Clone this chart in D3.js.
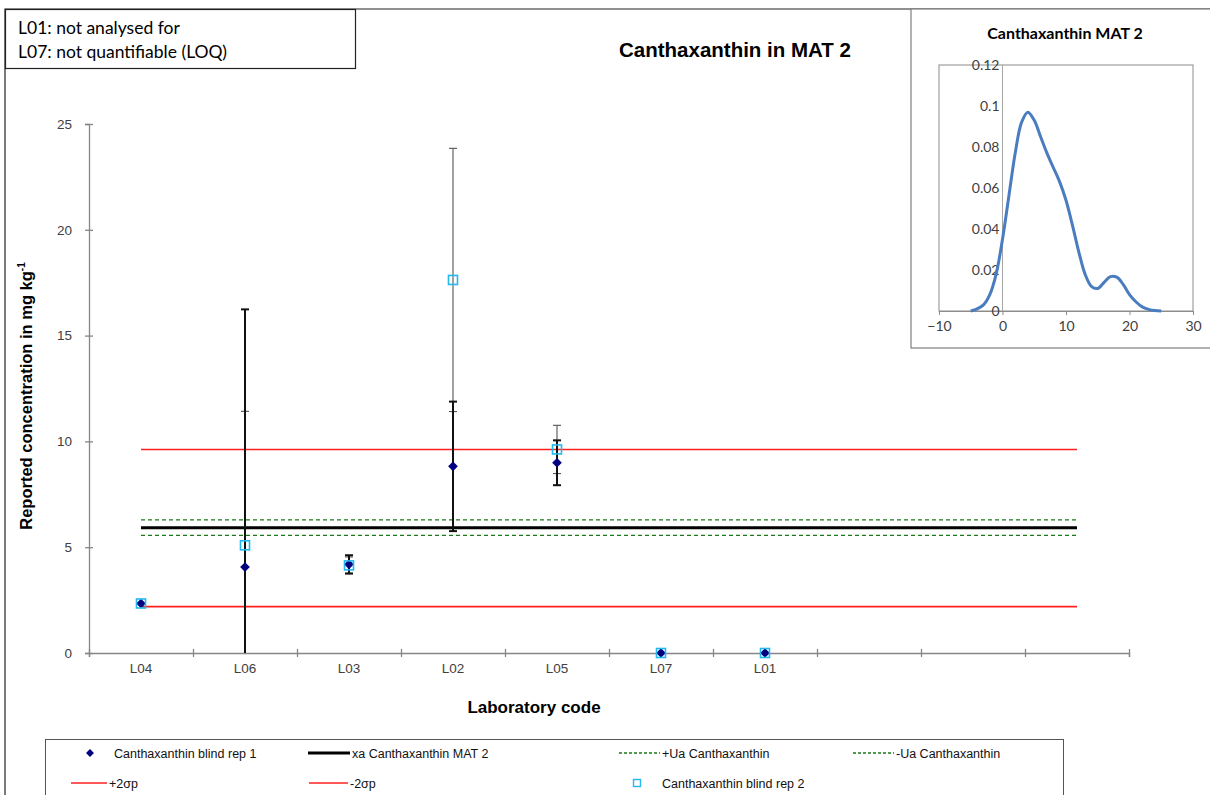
<!DOCTYPE html>
<html>
<head>
<meta charset="utf-8">
<script src="https://cdn.jsdelivr.net/npm/d3@7"></script>
<style>
  body { margin: 0; background: #fff; }
  svg { display: block; font-family: "Liberation Sans", Arial, sans-serif; }
</style>
</head>
<body>
<svg id="chart" width="1210" height="795"></svg>
<script>
// data
const labs = ["L04", "L06", "L03", "L02", "L05", "L07", "L01", "", "", ""];
const rep1 = [2.34, 4.06, 4.19, 8.82, 8.99, 0, 0];
const rep1Err = [0, 12.18, 0.43, 3.06, 1.06, 0, 0];
const rep2 = [2.34, 5.09, 4.14, 17.63, 9.62, 0, 0];
const rep2Err = [0, 6.33, 0.40, 6.22, 1.14, 0, 0];
const xa = 5.92, plusUa = 6.29, minusUa = 5.56, plus2sp = 9.62, minus2sp = 2.19;
const yTicks = [0, 5, 10, 15, 20, 25];

// kernel density (inset)
const kdeX = [-5, -4, -3, -2, -1, 0, 1, 2, 3, 4, 5, 6, 7, 8, 9, 10, 11, 12, 13, 14, 15, 16, 17, 18, 19, 20, 21, 22, 23, 24, 25];
const kdeY = [0, 0.001, 0.003, 0.008, 0.018, 0.035, 0.056, 0.077, 0.092, 0.097, 0.093, 0.085, 0.077, 0.070, 0.063, 0.054, 0.042, 0.029, 0.018, 0.012, 0.011, 0.014, 0.0168, 0.0165, 0.013, 0.008, 0.0045, 0.002, 0.0008, 0.0002, 0];
const insetXTicks = [-10, 0, 10, 20, 30];
const insetYTicks = [0, 0.02, 0.04, 0.06, 0.08, 0.1, 0.12];

const svg = d3.select("#chart");

// outer frame
svg.append("path").attr("d", "M5,795V9H1210").attr("fill", "none").attr("stroke", "#222").attr("stroke-width", 1.2);

// main scales
const x = d3.scaleBand().domain(d3.range(labs.length)).range([89, 1129]).padding(0);
const xEdge = d3.scaleLinear().domain([0, labs.length]).range([89, 1129]);
const y = d3.scaleLinear().domain([0, 25]).range([653, 124]);
const cx = i => x(i) + x.bandwidth() / 2;

// axes
const yAxis = svg.append("g").attr("transform", "translate(89,0)")
  .call(d3.axisLeft(y).tickValues(yTicks).tickSize(4).tickPadding(13));
yAxis.selectAll(".tick line").attr("x2", -4).attr("x1", 4);
const xAxis = svg.append("g").attr("transform", "translate(0,653)")
  .call(d3.axisBottom(xEdge).tickValues(d3.range(labs.length + 1)).tickFormat("").tickSize(4));
xAxis.selectAll(".tick line").attr("y1", -4);
const xLab = svg.append("g").attr("transform", "translate(0,653)")
  .call(d3.axisBottom(x).tickFormat(i => labs[i]).tickSize(0).tickPadding(10));
xLab.select(".domain").remove();
[yAxis, xAxis].forEach(g => g.selectAll(".domain, .tick line").attr("stroke", "#868686").attr("stroke-width", 1.3));
[yAxis, xLab].forEach(g => g.selectAll("text").attr("font-size", 13.5).attr("fill", "#404040"));

// reference lines across all categories
const hLine = v => d3.line().x(i => cx(i)).y(() => y(v))(d3.range(labs.length));
const refs = [
  { v: plus2sp, c: "#ff2020", w: 1.6, dash: null },
  { v: minus2sp, c: "#ff2020", w: 1.6, dash: null },
  { v: plusUa, c: "#1a7a1a", w: 1.4, dash: "4,3" },
  { v: minusUa, c: "#1a7a1a", w: 1.4, dash: "4,3" },
  { v: xa, c: "#000", w: 3, dash: null }
];
svg.append("g").selectAll("path").data(refs).join("path")
  .attr("d", d => hLine(d.v)).attr("fill", "none")
  .attr("stroke", d => d.c).attr("stroke-width", d => d.w)
  .attr("stroke-dasharray", d => d.dash);

// error bars
function errBars(vals, errs, col, w) {
  const g = svg.append("g").attr("stroke", col).attr("stroke-width", w);
  vals.forEach((v, i) => {
    if (!errs[i]) return;
    const hi = v + errs[i], lo = Math.max(0, v - errs[i]);
    g.append("line").attr("x1", cx(i)).attr("x2", cx(i)).attr("y1", y(lo)).attr("y2", y(hi));
    g.append("line").attr("x1", cx(i) - 4).attr("x2", cx(i) + 4).attr("y1", y(hi)).attr("y2", y(hi));
    if (v - errs[i] >= 0)
      g.append("line").attr("x1", cx(i) - 4).attr("x2", cx(i) + 4).attr("y1", y(lo)).attr("y2", y(lo));
  });
}
errBars(rep2, rep2Err, "#555", 1.1);
errBars(rep1, rep1Err, "#111", 2);

// markers
const diamond = d3.symbol().type(d3.symbolDiamond2).size(60);
svg.append("g").selectAll("path").data(rep1).join("path")
  .attr("d", diamond).attr("transform", (d, i) => `translate(${cx(i)},${y(d)})`)
  .attr("fill", "#000080");
svg.append("g").selectAll("rect").data(rep2).join("rect")
  .attr("x", (d, i) => cx(i) - 4.5).attr("y", d => y(d) - 4.5)
  .attr("width", 9).attr("height", 9)
  .attr("fill", "none").attr("stroke", "#22b8f0").attr("stroke-width", 1.6);

// titles
svg.append("text").attr("x", 735).attr("y", 57).attr("text-anchor", "middle")
  .attr("font-size", 20.5).attr("font-weight", "bold").text("Canthaxanthin in MAT 2");
svg.append("text").attr("x", 534).attr("y", 713).attr("text-anchor", "middle")
  .attr("font-size", 17).attr("font-weight", "bold").text("Laboratory code");
const yl = svg.append("text").attr("transform", "translate(32,396) rotate(-90)")
  .attr("text-anchor", "middle").attr("font-size", 16.5).attr("font-weight", "bold");
yl.append("tspan").text("Reported concentration in mg kg");
yl.append("tspan").attr("font-size", 10).attr("dy", -7).text("-1");

// note box
svg.append("rect").attr("x", 5.5).attr("y", 9.5).attr("width", 350).attr("height", 59)
  .attr("fill", "#fff").attr("stroke", "#222").attr("stroke-width", 1.2);
const note = svg.append("g").attr("font-family", "Lato, 'Open Sans', sans-serif").attr("font-size", 17.5);
note.append("text").attr("x", 18).attr("y", 34).text("L01: not analysed for");
note.append("text").attr("x", 18).attr("y", 58).text("L07: not quantifiable (LOQ)");

// inset density chart
svg.append("rect").attr("x", 911).attr("y", 9).attr("width", 310).attr("height", 339)
  .attr("fill", "#fff").attr("stroke", "#7f7f7f").attr("stroke-width", 1.2);
svg.append("text").attr("x", 1065).attr("y", 39).attr("text-anchor", "middle")
  .attr("font-family", "Lato, sans-serif").attr("font-size", 16).attr("font-weight", "bold")
  .text("Canthaxanthin  MAT 2");
const ix = d3.scaleLinear().domain([-10, 30]).range([939, 1193]);
const iy = d3.scaleLinear().domain([0, 0.12]).range([311, 65]);
svg.append("rect").attr("x", 939).attr("y", 65).attr("width", 254).attr("height", 246)
  .attr("fill", "none").attr("stroke", "#8c8c8c").attr("stroke-width", 1);
svg.append("line").attr("x1", ix(0)).attr("x2", ix(0)).attr("y1", 65).attr("y2", 311)
  .attr("stroke", "#a6a6a6").attr("stroke-width", 1);
const ixAxis = svg.append("g").attr("transform", "translate(0,311)")
  .call(d3.axisBottom(ix).tickValues(insetXTicks).tickSize(4).tickPadding(6));
const iyAxis = svg.append("g").attr("transform", `translate(${ix(0)},0)`)
  .call(d3.axisLeft(iy).tickValues(insetYTicks).tickSize(0).tickPadding(3)
    .tickFormat(d => d === 0 ? "0" : String(+d.toFixed(2))));
iyAxis.select(".domain").remove();
[ixAxis, iyAxis].forEach(g => {
  g.selectAll(".domain, .tick line").attr("stroke", "#8c8c8c");
  g.selectAll("text").attr("font-family", "Lato, sans-serif").attr("font-size", 14).attr("fill", "#404040");
});
const kde = kdeX.map((v, i) => [v, kdeY[i]]);
svg.append("path").datum(kde)
  .attr("d", d3.line().x(d => ix(d[0])).y(d => iy(d[1])).curve(d3.curveCatmullRom.alpha(0.5)))
  .attr("fill", "none").attr("stroke", "#4a7cc0").attr("stroke-width", 3);

// legend
svg.append("rect").attr("x", 45.5).attr("y", 739.5).attr("width", 1018).attr("height", 70)
  .attr("fill", "#fff").attr("stroke", "#555").attr("stroke-width", 1);
const leg = svg.append("g").attr("font-size", 12.5).attr("fill", "#111");
const legItems = [
  { t: "Canthaxanthin blind rep 1", x: 90, yy: 753, kind: "diamond", tx: 114 },
  { t: "xa Canthaxanthin MAT 2", x: 308, yy: 753, kind: "line", c: "#000", w: 3, tx: 352 },
  { t: "+Ua Canthaxanthin", x: 619, yy: 753, kind: "line", c: "#1a7a1a", w: 1.4, dash: "3,2", tx: 662 },
  { t: "-Ua Canthaxanthin", x: 853, yy: 753, kind: "line", c: "#1a7a1a", w: 1.4, dash: "3,2", tx: 896 },
  { t: "+2σp", x: 71, yy: 783, kind: "line", c: "#ff2020", w: 1.6, tx: 109 },
  { t: "-2σp", x: 309, yy: 783, kind: "line", c: "#ff2020", w: 1.6, tx: 350 },
  { t: "Canthaxanthin blind rep 2", x: 637, yy: 783, kind: "square", tx: 662 }
];
legItems.forEach(d => {
  if (d.kind === "diamond") {
    leg.append("path").attr("d", d3.symbol().type(d3.symbolDiamond2).size(40))
      .attr("transform", `translate(${d.x},${d.yy})`).attr("fill", "#000080");
  } else if (d.kind === "square") {
    leg.append("rect").attr("x", d.x - 3.5).attr("y", d.yy - 3.5).attr("width", 7).attr("height", 7)
      .attr("fill", "none").attr("stroke", "#22b8f0").attr("stroke-width", 1.4);
  } else {
    leg.append("line").attr("x1", d.x).attr("x2", d.tx - 2).attr("y1", d.yy).attr("y2", d.yy)
      .attr("stroke", d.c).attr("stroke-width", d.w).attr("stroke-dasharray", d.dash || null);
  }
  leg.append("text").attr("x", d.tx).attr("y", d.yy + 4.5).text(d.t);
});
</script>
</body>
</html>
